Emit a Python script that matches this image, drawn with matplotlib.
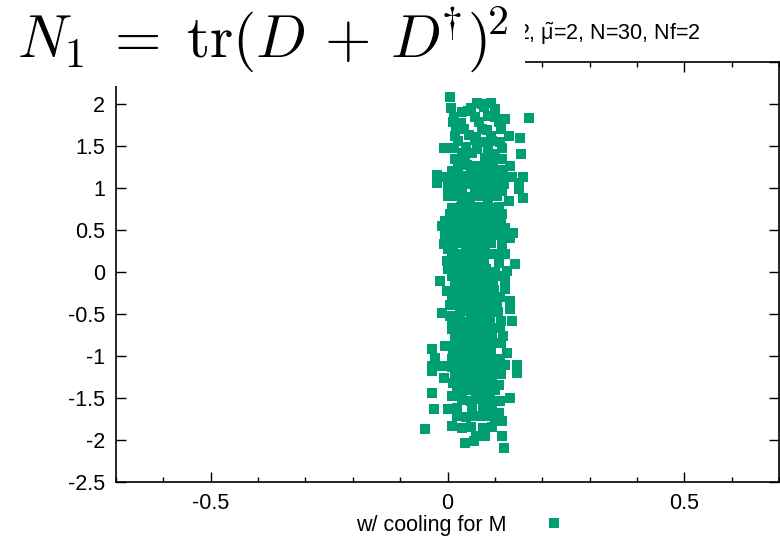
import matplotlib
matplotlib.use("Agg")
import matplotlib.pyplot as plt
from matplotlib.patches import Rectangle
from matplotlib.ticker import MultipleLocator

# (x, y), row by row from the top
cool_pts = [
    (0.006, 2.08),
    (0.062, 2.01), (0.072, 2.00), (0.092, 2.015),
    (0.008, 1.95), (0.050, 1.95), (0.078, 1.96), (0.101, 1.94),
    (0.044, 1.92), (0.031, 1.90),
    (0.013, 1.85), (0.058, 1.84), (0.086, 1.86), (0.101, 1.85), (0.122, 1.82),
    (0.172, 1.83),
    (0.011, 1.78), (0.028, 1.77), (0.066, 1.79), (0.108, 1.78),
    (0.018, 1.70), (0.034, 1.70), (0.072, 1.70), (0.084, 1.69), (0.114, 1.70),
    (0.016, 1.62), (0.046, 1.63), (0.060, 1.61), (0.092, 1.62), (0.129, 1.62),
    (0.153, 1.60),
    (0.023, 1.56), (0.058, 1.57), (0.075, 1.55), (0.093, 1.56), (0.110, 1.55),
    (-0.008, 1.48), (0.013, 1.48), (0.040, 1.49), (0.062, 1.47), (0.085, 1.48), (0.115, 1.48),
    (0.155, 1.41),
    (0.030, 1.42), (0.051, 1.42), (0.100, 1.41),
    (0.016, 1.35), (0.038, 1.34), (0.079, 1.36), (0.098, 1.35), (0.115, 1.34),
    (0.023, 1.26), (0.041, 1.27), (0.058, 1.26), (0.078, 1.25), (0.097, 1.26), (0.132, 1.26),
    (0.010, 1.20), (0.050, 1.19), (0.070, 1.20), (0.110, 1.21),
    (-0.022, 1.15), (-0.005, 1.135), (0.013, 1.14), (0.030, 1.14), (0.048, 1.13),
    (0.065, 1.14), (0.083, 1.15), (0.100, 1.15), (0.118, 1.14), (0.136, 1.135), (0.160, 1.13),
    (-0.022, 1.06), (0.002, 1.02), (0.020, 1.06), (0.040, 1.05), (0.060, 1.06),
    (0.080, 1.05), (0.100, 1.06), (0.120, 1.05), (0.150, 1.063),
    (0.150, 0.985),
    (0.010, 0.96), (0.030, 0.97), (0.058, 0.964), (0.078, 0.96), (0.096, 0.95), (0.115, 0.964),
    (0.160, 0.885),
    (0.002, 0.905), (0.020, 0.90), (0.045, 0.89), (0.065, 0.90), (0.085, 0.91), (0.105, 0.90),
    (0.030, 0.845), (0.086, 0.845), (0.129, 0.845),
    (0.009, 0.766), (0.028, 0.77), (0.048, 0.78), (0.068, 0.77), (0.090, 0.76), (0.108, 0.77),
    (0.005, 0.69), (0.025, 0.69), (0.045, 0.70), (0.065, 0.68), (0.085, 0.69), (0.100, 0.70), (0.115, 0.687),
    (-0.005, 0.607), (0.015, 0.61), (0.035, 0.62), (0.055, 0.60), (0.075, 0.61), (0.095, 0.62), (0.112, 0.61),
    (-0.012, 0.548), (0.122, 0.527),
    (0.010, 0.53), (0.030, 0.52), (0.050, 0.54), (0.070, 0.53), (0.090, 0.52), (0.108, 0.53),
    (0.139, 0.468),
    (-0.005, 0.429), (0.015, 0.43), (0.035, 0.44), (0.055, 0.42), (0.075, 0.43), (0.095, 0.44), (0.115, 0.43),
    (0.132, 0.408),
    (-0.008, 0.33), (0.012, 0.33), (0.032, 0.34), (0.052, 0.32), (0.072, 0.33), (0.092, 0.34), (0.115, 0.33),
    (0.002, 0.27), (0.040, 0.27), (0.080, 0.26),
    (0.010, 0.21), (0.030, 0.22), (0.050, 0.20), (0.070, 0.21), (0.090, 0.22), (0.108, 0.21), (0.122, 0.21),
    (-0.002, 0.131), (0.018, 0.13), (0.038, 0.14), (0.058, 0.12), (0.078, 0.13), (0.108, 0.111),
    (0.143, 0.092),
    (0.002, 0.032), (0.022, 0.03), (0.042, 0.04), (0.062, 0.02), (0.082, 0.03), (0.100, 0.004), (0.125, 0.012),
    (0.010, -0.05), (0.030, -0.05), (0.050, -0.04), (0.070, -0.06), (0.090, -0.05), (0.110, -0.05),
    (-0.0155, -0.107), (0.122, -0.107),
    (0.016, -0.127), (0.036, -0.13), (0.056, -0.12), (0.076, -0.14), (0.096, -0.13),
    (-0.002, -0.226), (0.018, -0.21), (0.038, -0.22), (0.058, -0.20), (0.078, -0.21), (0.098, -0.22), (0.122, -0.206),
    (0.010, -0.30), (0.030, -0.31), (0.050, -0.29), (0.070, -0.30), (0.090, -0.31), (0.110, -0.30),
    (0.132, -0.345),
    (0.005, -0.39), (0.025, -0.38), (0.045, -0.40), (0.065, -0.39), (0.085, -0.38), (0.105, -0.39),
    (0.132, -0.444),
    (-0.012, -0.484), (0.006, -0.524), (0.026, -0.48), (0.046, -0.47), (0.066, -0.49), (0.086, -0.48), (0.106, -0.48),
    (0.136, -0.583),
    (0.010, -0.58), (0.030, -0.59), (0.050, -0.57), (0.070, -0.58), (0.090, -0.59), (0.112, -0.58),
    (0.009, -0.682), (0.029, -0.68), (0.049, -0.67), (0.069, -0.69), (0.089, -0.68), (0.110, -0.67),
    (0.118, -0.762),
    (0.015, -0.76), (0.035, -0.77), (0.055, -0.75), (0.075, -0.76), (0.095, -0.77),
    (0.016, -0.84), (0.036, -0.85), (0.056, -0.83), (0.076, -0.84), (0.096, -0.85), (0.112, -0.84),
    (-0.005, -0.881), (-0.033, -0.913),
    (0.125, -0.96),
    (0.012, -0.95), (0.032, -0.96), (0.052, -0.94), (0.072, -0.95), (0.092, -0.96),
    (-0.026, -1.02), (0.009, -1.04),
    (0.030, -1.05), (0.050, -1.04), (0.070, -1.06), (0.090, -1.05), (0.110, -1.04),
    (0.146, -1.11), (0.122, -1.11),
    (-0.033, -1.12), (-0.012, -1.12), (0.010, -1.13), (0.030, -1.12),
    (0.050, -1.15), (0.070, -1.14), (0.090, -1.15), (0.105, -1.16),
    (-0.033, -1.18), (0.146, -1.20),
    (0.015, -1.22), (0.035, -1.23), (0.055, -1.21), (0.075, -1.22), (0.095, -1.23), (0.112, -1.22),
    (-0.008, -1.26),
    (0.012, -1.32), (0.030, -1.31), (0.050, -1.33), (0.070, -1.32), (0.090, -1.31),
    (0.108, -1.34),
    (-0.032, -1.44),
    (0.020, -1.42), (0.040, -1.41), (0.060, -1.43), (0.080, -1.42), (0.100, -1.41),
    (0.009, -1.476), (0.132, -1.50),
    (0.030, -1.52), (0.050, -1.53), (0.070, -1.51), (0.090, -1.52), (0.110, -1.53),
    (0.051, -1.615),
    (-0.0295, -1.63), (0.002, -1.635), (0.020, -1.62), (0.075, -1.63), (0.095, -1.62),
    (0.108, -1.675),
    (0.020, -1.72), (0.040, -1.73), (0.060, -1.71), (0.080, -1.72), (0.100, -1.73),
    (0.115, -1.774),
    (0.009, -1.83), (0.030, -1.853), (0.050, -1.84), (0.076, -1.853), (0.095, -1.84),
    (-0.047, -1.865),
    (0.115, -1.952), (0.079, -1.95), (0.060, -1.95),
    (0.055, -2.01), (0.036, -2.03),
    (0.120, -2.09),
]
cool_label = "w/ cooling for M"

cool_x = [p[0] for p in cool_pts]
cool_y = [p[1] for p in cool_pts]

green = "#009E73"
font = ["Liberation Sans", "DejaVu Sans"]
plt.rcParams["font.family"] = font
plt.rcParams["font.size"] = 15.5
plt.rcParams["mathtext.fontset"] = "custom"
plt.rcParams["mathtext.rm"] = "Liberation Sans"
plt.rcParams["mathtext.it"] = "Liberation Sans:italic"

W, H = 780, 542
fig = plt.figure(figsize=(W / 100, H / 100), dpi=100)
ax = fig.add_axes([116 / W, 1 - 482 / H, (779 - 116) / W, (482 - 62) / H])

ax.plot(cool_x, cool_y, ls="none", marker="s", ms=7.2, mew=0,
        color=green, label=cool_label)

ax.set_xlim(-0.7, 0.7)
ax.set_ylim(-2.5, 2.5)
ax.xaxis.set_major_locator(MultipleLocator(0.5))
ax.xaxis.set_minor_locator(MultipleLocator(0.1))
ax.yaxis.set_major_locator(MultipleLocator(0.5))
ax.xaxis.set_major_formatter(plt.FuncFormatter(lambda v, p: "%g" % round(v, 2)))
ax.yaxis.set_major_formatter(plt.FuncFormatter(lambda v, p: "%g" % round(v, 2)))
ax.tick_params(which="both", direction="in", top=True, right=True, width=1)
ax.tick_params(which="major", length=7, pad=8)
ax.tick_params(which="minor", length=3.5)
for s in ax.spines.values():
    s.set_linewidth(1.2)

ax.legend(loc="center", bbox_to_anchor=(466 / W, 1 - 525 / H),
          bbox_transform=fig.transFigure, markerfirst=False, frameon=False,
          numpoints=1, handlelength=2, handletextpad=1.2, borderpad=0)

# small title, mostly hidden behind the big formula
fig.text(517 / W, 1 - 34 / H, r"2, $\tilde{\mathrm{μ}}$=2, N=30, Nf=2",
         fontsize=15.5, va="center", ha="left")

# white box behind the big formula
box = Rectangle((0, 1 - 86 / H), 525 / W, 86 / H, transform=fig.transFigure,
                facecolor="white", edgecolor="none", zorder=5)
fig.patches.append(box)
fig.text(17 / W, 1 - 57 / H,
         r"$N_1\;=\;\mathrm{tr}(D\,+\,D^{\!\!\dagger\!})^{\!2}$",
         fontsize=43, math_fontfamily="cm", va="baseline", zorder=6)

fig.savefig("out.png", dpi=100)
